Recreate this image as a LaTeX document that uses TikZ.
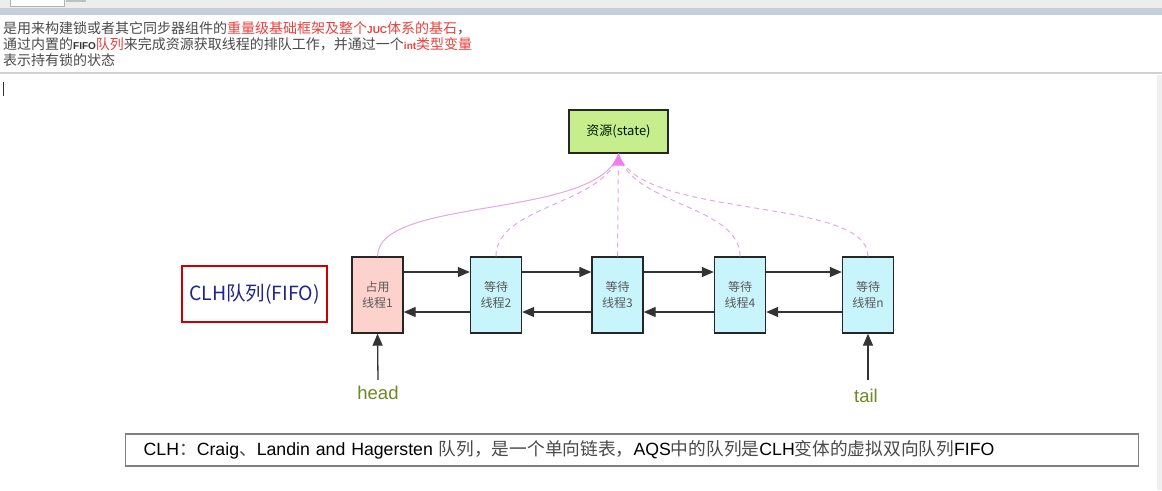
\documentclass[tikz,border=0pt]{standalone}
\usepackage{fontspec}
\setmainfont{Liberation Sans}
\newfontfamily\cjk{Noto Sans CJK SC}
\usetikzlibrary{arrows.meta}
\definecolor{txtgray}{HTML}{4A4A4A}
\definecolor{hlred}{HTML}{E8413E}
\definecolor{resgreen}{HTML}{C6EE8C}
\definecolor{respink}{HTML}{FDD2CD}
\definecolor{rescyan}{HTML}{C8F5FC}
\definecolor{linkpink}{HTML}{E8A6E8}
\definecolor{tippink}{HTML}{F27DF2}
\definecolor{navy}{HTML}{24248A}
\definecolor{olivetext}{HTML}{6B8A24}
\definecolor{bandblue}{HTML}{C5CFDC}
\begin{document}
\begin{tikzpicture}[x=1pt,y=-1pt,
  topline/.style={anchor=base west, inner sep=0pt, text=txtgray, font=\cjk\fontsize{14}{16}\selectfont},
  tbox/.style={draw=black!85, line width=1.4pt, minimum width=51pt, minimum height=76pt, inner sep=0pt, align=center, text=black!65, font=\cjk\fontsize{12}{16}\selectfont},
  link/.style={-{Triangle[length=12pt,width=10pt]}, draw=black!80, line width=1.3pt},
  pinkline/.style={draw=linkpink, line width=1pt},
  pinkdash/.style={pinkline, dash pattern=on 5pt off 4pt},
  endlabel/.style={inner sep=0pt, text=olivetext, font=\fontsize{18.5}{20}\selectfont}]
\useasboundingbox (0,0) rectangle (1162,490);
% window chrome
\fill[white] (0,0) rectangle (1162,490);
\fill[black!7] (0,0) rectangle (1162,8);
\filldraw[fill=white, draw=black!30] (10,-1) rectangle (64,6);
\fill[black!25] (66,0) rectangle (86,2);
\fill[bandblue] (0,8) rectangle (1162,15);
\fill[black!18] (0,71.5) rectangle (1162,73.5);
\fill[black!6] (1157,75) rectangle (1162,490);
\draw[black!80, line width=0.8pt] (3.5,82) -- (3.5,96);
% top text
\node[topline] (t1) at (3,33) {是用来构建锁或者其它同步器组件的\textcolor{hlred}{重量级基础框架及整个{\fontspec{Liberation Sans}\fontsize{10}{12}\selectfont\bfseries JUC}体系的基石}，};
\node[topline] (t2) at (3,49) {通过内置的{\fontspec{Liberation Sans}\fontsize{10}{12}\selectfont\bfseries\color{black!80}FIFO}\textcolor{hlred}{队列}来完成资源获取线程的排队工作，并通过一个\textcolor{hlred}{{\fontspec{Liberation Sans}\fontsize{10}{12}\selectfont\bfseries int}类型变量}};
\node[topline] (t3) at (3,65) {表示持有锁的状态};
% resource
\node[draw=black!85, line width=1.4pt, fill=resgreen, minimum width=99pt, minimum height=43pt, inner sep=0pt, text=black!75!green!40!black, font=\cjk\fontsize{13}{15}\selectfont] (res) at (618.5,131.5) {资源(state)};
% queue nodes
\node[tbox, fill=respink] (b1) at (377.5,295) {占用\\线程1};
\node[tbox, fill=rescyan] (b2) at (496,295) {等待\\线程2};
\node[tbox, fill=rescyan] (b3) at (617.5,295) {等待\\线程3};
\node[tbox, fill=rescyan] (b4) at (740,295) {等待\\线程4};
\node[tbox, fill=rescyan] (bn) at (868,295) {等待\\线程n};
% CLH label
\node[draw=red!80!black, line width=1.8pt, minimum width=145pt, minimum height=56pt, inner sep=0pt, text=navy, font=\cjk\fontsize{19.5}{21}\selectfont] (clh) at (254.5,294) {CLH队列(FIFO)};
% links
\foreach \a/\b in {b1/b2,b2/b3,b3/b4,b4/bn}{
  \draw[link] ([yshift=23pt]\a.east) -- ([yshift=23pt]\b.west);
  \draw[link] ([yshift=-17pt]\b.west) -- ([yshift=-17pt]\a.east);
}
% pink curves to resource
\draw[pinkline] (b1.north) .. controls (378,196) and (598,220) .. (res.south);
\draw[pinkdash] (b2.north) .. controls (496,205) and (606,205) .. (res.south);
\draw[pinkdash] (b4.north) .. controls (740,205) and (630,205) .. (res.south);
\draw[pinkdash] (bn.north) .. controls (868,196) and (638,220) .. (res.south);
\draw[pinkdash, -{Triangle[length=12pt,width=12pt,fill=tippink,color=tippink]}] (b3.north) -- (res.south);
% head / tail
\node[endlabel] (head) at (378,393) {head};
\node[endlabel] (tail) at (866,396) {tail};
\coordinate (hs) at (378,380);
\coordinate (ts) at (868,380);
\draw[link] (hs) -- (b1.south);
\draw[link] (ts) -- (bn.south);
% bottom note
\node[draw=black!50, line width=1.4pt, anchor=west, minimum width=1013pt, minimum height=32pt, inner xsep=18pt, inner ysep=0pt, text width=977pt, align=left, font=\fontsize{17.7}{19}\selectfont] (note) at (125,450) {CLH{\cjk\color{txtgray}：}Craig{\cjk\color{txtgray}、}Landin and Hagersten {\cjk\color{txtgray}队列，是一个单向链表，}AQS{\cjk\color{txtgray}中的队列是}CLH{\cjk\color{txtgray}变体的虚拟双向队列}FIFO};
\end{tikzpicture}
\end{document}
